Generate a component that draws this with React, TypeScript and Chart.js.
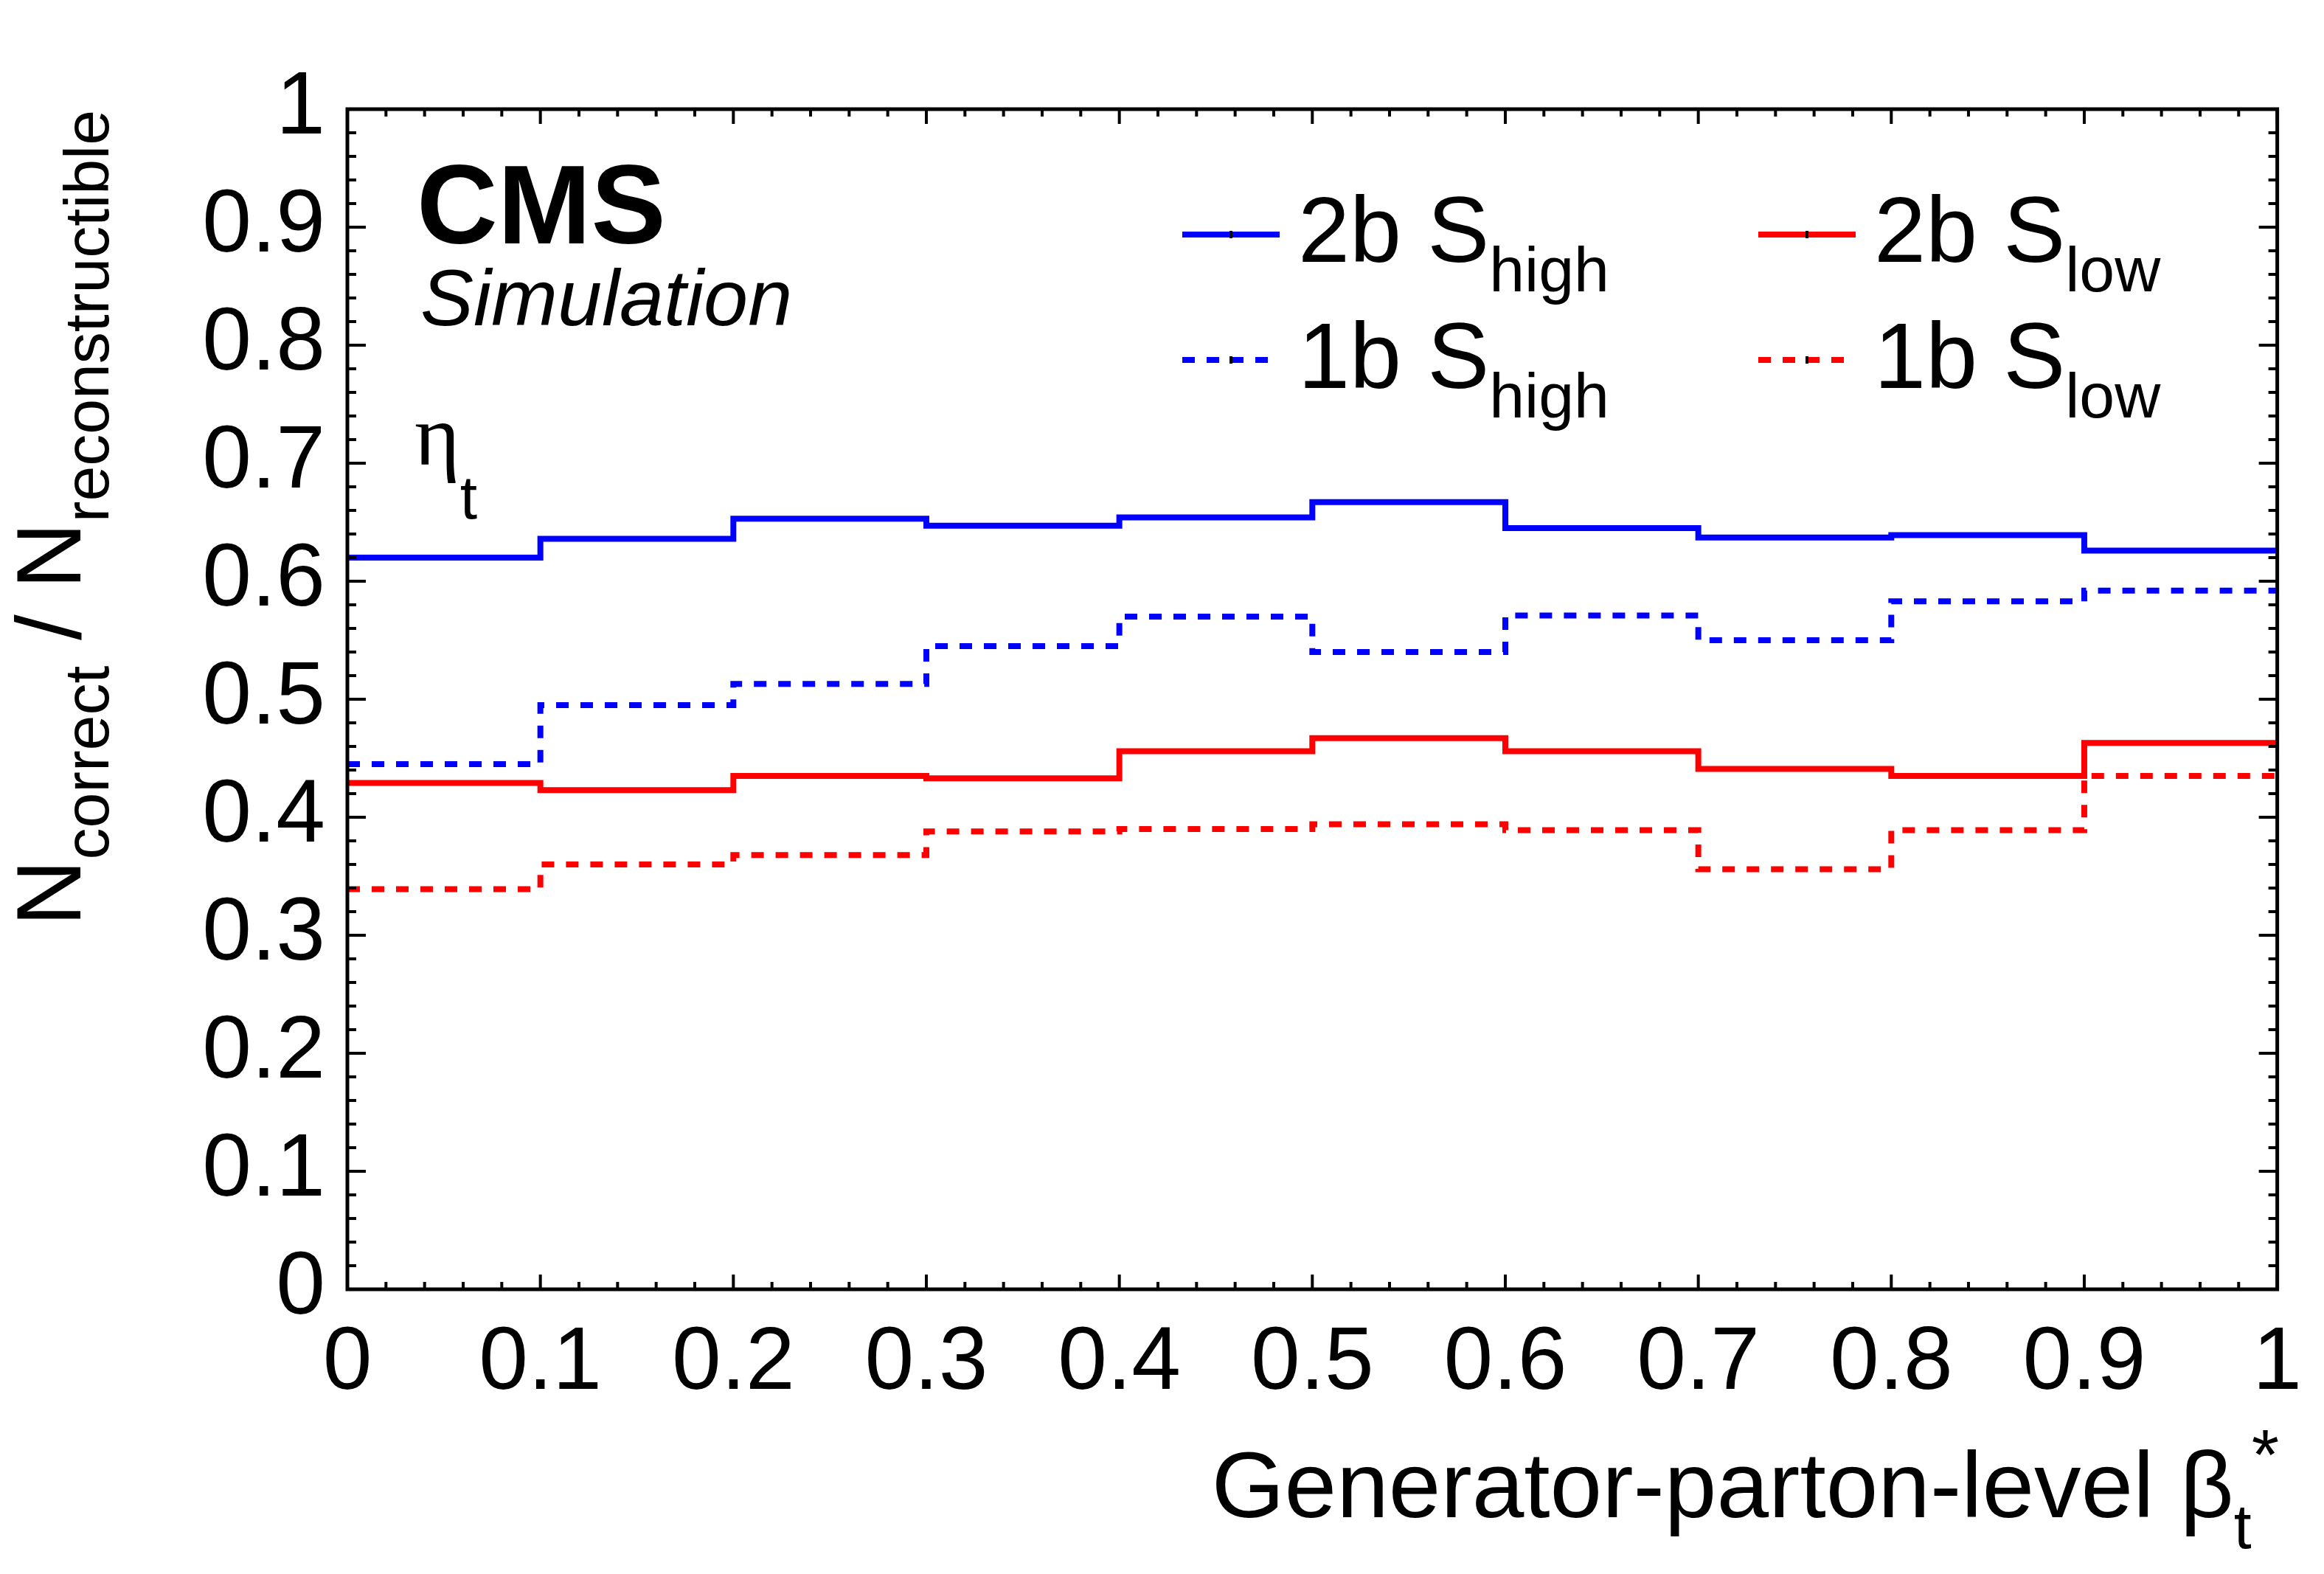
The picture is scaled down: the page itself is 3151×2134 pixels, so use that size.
import { useEffect, useRef } from "react";
import { Chart, registerables } from "chart.js";

Chart.register(...registerables);

// bin edges of the generator-level beta_t* histogram
const binEdges = [0, 0.1, 0.2, 0.3, 0.4, 0.5, 0.6, 0.7, 0.8, 0.9, 1];

// N_correct / N_reconstructible per bin
const twoBHigh = [0.62, 0.636, 0.653, 0.647, 0.654, 0.667, 0.645, 0.637, 0.639, 0.626];
const oneBHigh = [0.445, 0.495, 0.513, 0.545, 0.57, 0.54, 0.571, 0.55, 0.583, 0.592];
const twoBLow = [0.429, 0.423, 0.435, 0.433, 0.456, 0.467, 0.456, 0.441, 0.435, 0.463];
const oneBLow = [0.339, 0.36, 0.368, 0.388, 0.39, 0.394, 0.389, 0.356, 0.389, 0.435];

const seriesNames = ["2b S", "1b S", "2b S", "1b S"];
const seriesSubs = ["high", "high", "low", "low"];

const xTicks = [0, 0.1, 0.2, 0.3, 0.4, 0.5, 0.6, 0.7, 0.8, 0.9, 1];
const yTicks = [0, 0.1, 0.2, 0.3, 0.4, 0.5, 0.6, 0.7, 0.8, 0.9, 1];

const FONT = '"Liberation Sans", Arial, Helvetica, sans-serif';
const SERIF = '"Liberation Serif", "DejaVu Serif", serif';
const BLUE = "#0000ff";
const RED = "#ff0000";

type Part = { t: string; size: number; dy?: number; weight?: string; style?: string; family?: string };

function fontOf(p: Part) {
  return `${p.style ?? "normal"} ${p.weight ?? "normal"} ${p.size}px ${p.family ?? FONT}`;
}

function drawParts(ctx: CanvasRenderingContext2D, parts: Part[], x: number, y: number, align: "left" | "right") {
  const widths = parts.map((p) => {
    ctx.font = fontOf(p);
    return ctx.measureText(p.t).width;
  });
  const total = widths.reduce((a, b) => a + b, 0);
  let cx = align === "right" ? x - total : x;
  ctx.textAlign = "left";
  ctx.textBaseline = "alphabetic";
  parts.forEach((p, i) => {
    ctx.font = fontOf(p);
    ctx.fillText(p.t, cx, y + (p.dy ?? 0));
    cx += widths[i];
  });
}

function steps(values: number[]) {
  return binEdges.map((x, i) => ({ x, y: values[Math.min(i, values.length - 1)] }));
}

function fmt(v: number | string) {
  return String(Math.round(Number(v) * 10) / 10);
}

const rootStyle = {
  id: "rootStyle",
  afterDraw(chart: Chart) {
    const { ctx, chartArea: a } = chart;
    const xs = chart.scales.x;
    const ys = chart.scales.y;
    ctx.save();

    // frame
    ctx.strokeStyle = "#000";
    ctx.lineWidth = 5;
    ctx.setLineDash([]);
    ctx.strokeRect(a.left, a.top, a.right - a.left, a.bottom - a.top);

    // ticks on all four sides, pointing inwards
    ctx.lineWidth = 4;
    ctx.beginPath();
    const xTick = (v: number, len: number) => {
      const px = xs.getPixelForValue(v);
      ctx.moveTo(px, a.bottom);
      ctx.lineTo(px, a.bottom - len);
      ctx.moveTo(px, a.top);
      ctx.lineTo(px, a.top + len);
    };
    const yTick = (v: number, len: number) => {
      const py = ys.getPixelForValue(v);
      ctx.moveTo(a.left, py);
      ctx.lineTo(a.left + len, py);
      ctx.moveTo(a.right, py);
      ctx.lineTo(a.right - len, py);
    };
    xTicks.forEach((v, i) => {
      xTick(v, 20);
      if (i < xTicks.length - 1) {
        for (let k = 1; k < 5; k++) xTick(v + ((xTicks[i + 1] - v) * k) / 5, 10);
      }
    });
    yTicks.forEach((v, i) => {
      yTick(v, 25);
      if (i < yTicks.length - 1) {
        for (let k = 1; k < 5; k++) yTick(v + ((yTicks[i + 1] - v) * k) / 5, 12);
      }
    });
    ctx.stroke();

    ctx.fillStyle = "#000";

    // CMS label
    drawParts(ctx, [{ t: "CMS", size: 152, weight: "bold" }], 565, 330, "left");
    drawParts(ctx, [{ t: "Simulation", size: 108, style: "italic" }], 570, 441, "left");
    drawParts(
      ctx,
      [
        { t: "η", size: 118, family: SERIF },
        { t: "t", size: 84, dy: 73 },
      ],
      562,
      630,
      "left"
    );

    // legend
    const lineX = [1603, 2384];
    const lineY = [318, 488];
    const textY = [355, 526];
    chart.data.datasets.forEach((ds: any, i: number) => {
      const col = Math.floor(i / 2);
      const row = i % 2;
      const x0 = lineX[col];
      ctx.strokeStyle = ds.borderColor;
      ctx.lineWidth = 8;
      ctx.setLineDash(ds.borderDash ?? []);
      ctx.beginPath();
      ctx.moveTo(x0, lineY[row]);
      ctx.lineTo(x0 + 132, lineY[row]);
      ctx.stroke();
      ctx.setLineDash([]);
      ctx.fillStyle = "#000";
      ctx.fillRect(x0 + 64, lineY[row] - 5, 4, 10);
      drawParts(
        ctx,
        [
          { t: seriesNames[i], size: 126 },
          { t: seriesSubs[i], size: 86, dy: 40 },
        ],
        x0 + 157,
        textY[row],
        "left"
      );
    });

    // axis titles
    ctx.fillStyle = "#000";
    drawParts(
      ctx,
      [
        { t: "Generator-parton-level β", size: 127 },
        { t: "t", size: 86, dy: 42 },
        { t: "*", size: 96, dy: -52 },
      ],
      3090,
      2057,
      "right"
    );

    ctx.translate(109, 149);
    ctx.rotate(-Math.PI / 2);
    drawParts(
      ctx,
      [
        { t: "N", size: 125 },
        { t: "correct", size: 86, dy: 38 },
        { t: " / N", size: 125 },
        { t: "reconstructible", size: 86, dy: 38 },
      ],
      0,
      0,
      "right"
    );

    ctx.restore();
  },
};

export default function App() {
  const canvasRef = useRef<HTMLCanvasElement>(null);
  const chartRef = useRef<Chart | null>(null);

  useEffect(() => {
    document.body.style.margin = "0";
    if (!canvasRef.current) return;
    if (chartRef.current) chartRef.current.destroy();
    const ctx = canvasRef.current.getContext("2d");
    if (!ctx) return;

    const tickFont = { family: FONT, size: 120 };

    chartRef.current = new Chart(ctx, {
      type: "line",
      data: {
        datasets: [
          { label: "2b S_high", data: steps(twoBHigh), borderColor: BLUE, borderDash: [] },
          { label: "1b S_high", data: steps(oneBHigh), borderColor: BLUE, borderDash: [17, 16] },
          { label: "2b S_low", data: steps(twoBLow), borderColor: RED, borderDash: [] },
          { label: "1b S_low", data: steps(oneBLow), borderColor: RED, borderDash: [17, 16] },
        ].map((d) => ({
          ...d,
          borderWidth: 8,
          stepped: true,
          pointRadius: 0,
          fill: false,
          borderCapStyle: "butt" as const,
          borderJoinStyle: "miter" as const,
        })),
      },
      options: {
        responsive: false,
        devicePixelRatio: 1,
        animation: false,
        layout: { padding: { top: 148, right: 59, left: 0, bottom: 0 } },
        plugins: {
          legend: { display: false },
          tooltip: { enabled: false },
        },
        scales: {
          x: {
            type: "linear",
            min: 0,
            max: 1,
            afterBuildTicks: (s: any) => {
              s.ticks = xTicks.map((v) => ({ value: v }));
            },
            afterFit: (s: any) => {
              s.height = 386;
            },
            ticks: {
              callback: (v: any) => fmt(v),
              font: tickFont,
              color: "#000",
              padding: 30,
              autoSkip: false,
              maxRotation: 0,
            },
            grid: { display: false, drawTicks: false },
            border: { display: false },
          },
          y: {
            type: "linear",
            min: 0,
            max: 1,
            afterBuildTicks: (s: any) => {
              s.ticks = yTicks.map((v) => ({ value: v }));
            },
            afterFit: (s: any) => {
              s.width = 471;
            },
            ticks: {
              callback: (v: any) => fmt(v),
              font: tickFont,
              color: "#000",
              padding: 30,
              autoSkip: false,
            },
            grid: { display: false, drawTicks: false },
            border: { display: false },
          },
        },
      },
      plugins: [rootStyle],
    });

    return () => {
      if (chartRef.current) {
        chartRef.current.destroy();
        chartRef.current = null;
      }
    };
  }, []);

  return (
    <div style={{ width: 3151, height: 2134, background: "#fff" }}>
      <canvas ref={canvasRef} width={3151} height={2134} style={{ width: 3151, height: 2134, display: "block" }} />
    </div>
  );
}
